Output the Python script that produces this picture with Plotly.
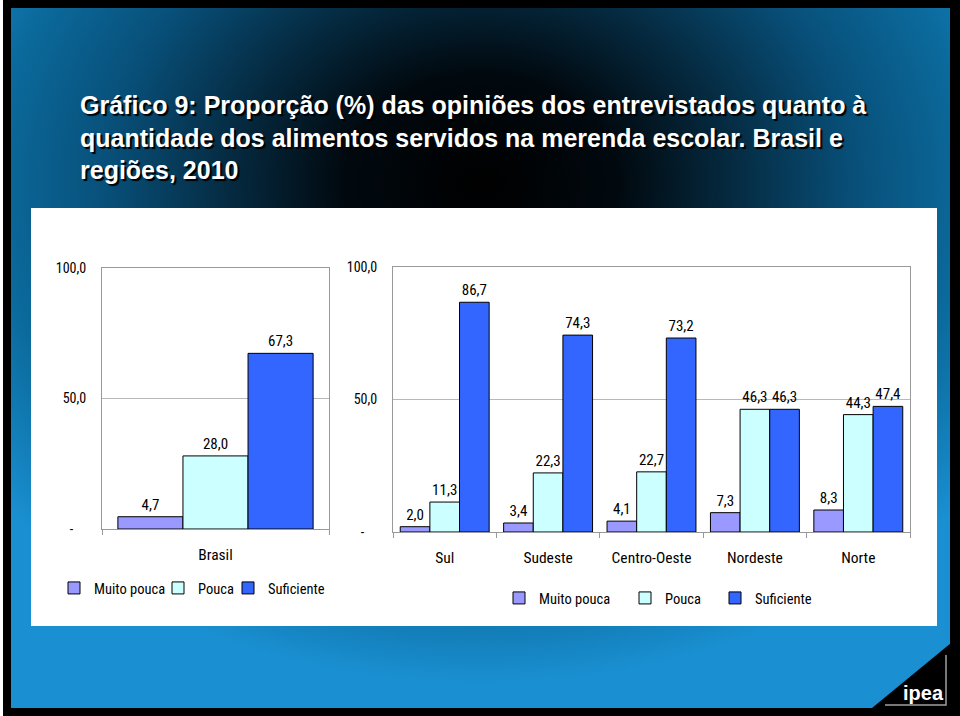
import base64
import plotly.graph_objects as go

# ---------------- data ----------------
series_names = ["Muito pouca", "Pouca", "Suficiente"]
series_colors = ["#9999ff", "#ccffff", "#3366ff"]

brasil_categories = ["Brasil"]
brasil_muito_pouca = [4.7]
brasil_pouca = [28.0]
brasil_suficiente = [67.3]

region_categories = ["Sul", "Sudeste", "Centro-Oeste", "Nordeste", "Norte"]
region_muito_pouca = [2.0, 3.4, 4.1, 7.3, 8.3]
region_pouca = [11.3, 22.3, 22.7, 46.3, 44.3]
region_suficiente = [86.7, 74.3, 73.2, 46.3, 47.4]

y_tick_values = [0, 50, 100]
y_tick_labels = ["-\u00a0\u00a0\u00a0\u00a0", "50,0", "100,0"]

title_text = ("Gráfico 9: Proporção (%) das opiniões dos entrevistados quanto à<br>"
              "quantidade dos alimentos servidos na merenda escolar. Brasil e<br>"
              "regiões, 2010")

# ---------------- layout helpers ----------------
W, H = 960, 716
FONT = "Liberation Sans Narrow, Arial Narrow, Roboto Condensed, sans-serif"
TITLE_FONT = "Liberation Sans, Arial, sans-serif"


def px(x):
    return x / W


def py(y):
    return 1 - y / H


# background gradient (svg data uri)
svg = '''<svg xmlns="http://www.w3.org/2000/svg" width="939" height="700" viewBox="0 0 939 700" preserveAspectRatio="none">
<defs>
<radialGradient id="g" gradientUnits="userSpaceOnUse" cx="470" cy="175" r="627"
 gradientTransform="translate(470 175) scale(1 0.8) translate(-470 -175)">
<stop offset="0" stop-color="#000000"/>
<stop offset="0.22" stop-color="#01090f"/>
<stop offset="0.4" stop-color="#052a40"/>
<stop offset="0.6" stop-color="#08507a"/>
<stop offset="0.78" stop-color="#0b6a9c"/>
<stop offset="1" stop-color="#1a90d2"/>
</radialGradient>
</defs>
<rect x="0" y="0" width="939" height="700" fill="url(#g)"/>
</svg>'''
bg_uri = "data:image/svg+xml;base64," + base64.b64encode(svg.encode("utf-8")).decode("ascii")

fig = go.Figure()

brasil_values = [brasil_muito_pouca, brasil_pouca, brasil_suficiente]
region_values = [region_muito_pouca, region_pouca, region_suficiente]

left_legends = ["legend", "legend2", "legend3"]
right_legends = ["legend4", "legend5", "legend6"]

for name, color, vals, lg in zip(series_names, series_colors, brasil_values, left_legends):
    fig.add_trace(go.Bar(
        x=brasil_categories, y=vals, name=name,
        marker=dict(color=color, line=dict(color="black", width=1)),
        texttemplate="%{y:.1f}", textposition="outside",
        textfont=dict(family=FONT, size=15, color="black"),
        cliponaxis=False, xaxis="x", yaxis="y", legend=lg,
    ))

for name, color, vals, lg in zip(series_names, series_colors, region_values, right_legends):
    fig.add_trace(go.Bar(
        x=region_categories, y=vals, name=name,
        marker=dict(color=color, line=dict(color="black", width=1)),
        texttemplate="%{y:.1f}", textposition="outside",
        textfont=dict(family=FONT, size=15, color="black"),
        cliponaxis=False, xaxis="x2", yaxis="y2", legend=lg,
    ))

axis_common_x = dict(
    showline=True, linecolor="#999999", linewidth=1, mirror=True,
    ticks="outside", ticklen=5, tickcolor="#999999", tickson="boundaries",
    tickfont=dict(family=FONT, size=15.5, color="black"),
    ticklabelstandoff=11, fixedrange=True, automargin=False, showgrid=False,
)
axis_common_y = dict(
    range=[0, 100], tickvals=y_tick_values, ticktext=y_tick_labels,
    showline=True, linecolor="#999999", linewidth=1, mirror=True,
    showgrid=True, gridcolor="#b8b8b8", gridwidth=1, zeroline=False,
    ticks="", tickfont=dict(family=FONT, size=14, color="black"),
    ticklabelstandoff=12, fixedrange=True, automargin=False,
)


def legend_box(symbol_center_x, center_y):
    return dict(orientation="h", x=px(symbol_center_x - 20), xanchor="left", y=py(center_y),
                yanchor="middle", bgcolor="rgba(0,0,0,0)", borderwidth=0,
                font=dict(family=FONT, size=14.5, color="black"))


legend_layout = {}
for lg, cx in zip(left_legends, [74, 178, 248]):
    legend_layout[lg] = legend_box(cx, 588)
for lg, cx in zip(right_legends, [519, 645, 735]):
    legend_layout[lg] = legend_box(cx, 598)

fig.update_layout(
    template="none",
    width=W, height=H,
    margin=dict(l=0, r=0, t=0, b=0, pad=0, autoexpand=False),
    paper_bgcolor="black", plot_bgcolor="white",
    separators=",.",
    barmode="group", bargap=0.14, bargroupgap=0,
    font=dict(family=FONT, color="black"),
    xaxis=dict(domain=[px(102), px(329)], anchor="y", **axis_common_x),
    yaxis=dict(domain=[py(529), py(268)], anchor="x", **axis_common_y),
    xaxis2=dict(domain=[px(393), px(910)], anchor="y2", **axis_common_x),
    yaxis2=dict(domain=[py(532), py(267)], anchor="x2", **axis_common_y),
    showlegend=True,
    images=[dict(source=bg_uri, xref="paper", yref="paper",
                 x=px(11), y=py(8), sizex=px(950) - px(11), sizey=py(8) - py(708),
                 xanchor="left", yanchor="top", sizing="stretch", layer="below")],
    shapes=[
        # thin white strip at far left
        dict(type="rect", xref="paper", yref="paper", x0=0, x1=px(3), y0=0, y1=1,
             fillcolor="white", line=dict(width=0), layer="below"),
        # white panel
        dict(type="rect", xref="paper", yref="paper", x0=px(31), x1=px(937),
             y0=py(626), y1=py(208), fillcolor="white", line=dict(width=0), layer="below"),
        # logo black triangle
        dict(type="path", xref="paper", yref="paper",
             path=f"M {px(872)},{py(708)} L {px(951)},{py(708)} L {px(951)},{py(643)} Z",
             fillcolor="black", line=dict(width=0), layer="below"),
        # logo bracket
        dict(type="path", xref="paper", yref="paper",
             path=f"M {px(885)},{py(705)} L {px(946)},{py(705)} L {px(946)},{py(655)}",
             line=dict(color="#a0a0a0", width=1.5), layer="below"),
    ],
    annotations=[
        dict(text=title_text, xref="paper", yref="paper", x=px(78), y=py(137),
             xanchor="left", yanchor="middle", align="left", showarrow=False,
             font=dict(family=TITLE_FONT, size=25, color="white", weight="bold",
                       shadow="2px 2px 1px #000000")),
        dict(text="ipea", xref="paper", yref="paper", x=px(923), y=py(693),
             xanchor="center", yanchor="middle", showarrow=False,
             font=dict(family=TITLE_FONT, size=20, color="white", weight="bold")),
    ],
    **legend_layout,
)

fig.write_html("out.html")
